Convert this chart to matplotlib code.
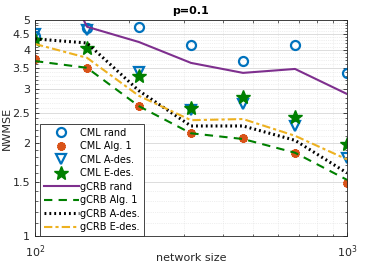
import numpy as np
import matplotlib
matplotlib.use('Agg')
import matplotlib.pyplot as plt
from matplotlib.ticker import FixedLocator, NullFormatter

network_size = [100, 146.8, 215.4, 316.2, 464.2, 681.3, 1000]

cml_rand = [4.45, 4.7, 4.75, 4.15, 3.68, 4.15, 3.37]
cml_alg1 = [3.74, 3.5, 2.63, 2.15, 2.08, 1.86, 1.48]
cml_ades = [4.5, 4.65, 3.4, 2.56, 2.67, 2.27, 1.79]
cml_edes = [4.31, 4.06, 3.3, 2.6, 2.82, 2.43, 1.99]

gcrb_rand = [10.5, 4.75, 4.24, 3.63, 3.37, 3.47, 2.88]
gcrb_alg1 = [3.68, 3.5, 2.63, 2.15, 2.06, 1.86, 1.52]
gcrb_ades = [4.34, 4.21, 2.95, 2.27, 2.27, 2.04, 1.6]
gcrb_edes = [4.18, 3.77, 2.84, 2.37, 2.39, 2.11, 1.77]

y_ticks = [1, 1.5, 2, 2.5, 3, 3.5, 4, 4.5, 5]

blue = '#0072BD'
orange = '#D95319'
green = '#008000'
purple = '#7E2F8E'
yellow = '#EDB120'

plt.rcParams['font.family'] = 'DejaVu Sans'
fig = plt.figure(figsize=(3.68, 2.65), dpi=100)
ax = fig.add_axes([0.095, 0.109, 0.848, 0.816])

ax.plot(network_size, cml_rand, 'o', color=blue, mfc='none', mew=1.6, ms=6.5, label='CML rand')
ax.plot(network_size, cml_alg1, marker=(6, 2, 0), ls='none', color=orange, mew=2.5, ms=6, label='CML Alg. 1')
ax.plot(network_size, cml_ades, 'v', color=blue, mfc='none', mew=1.6, ms=7.5, label='CML A-des.')
ax.plot(network_size, cml_edes, '*', color=green, mew=1, ms=10, label='CML E-des.')

ax.plot(network_size, gcrb_rand, '-', color=purple, lw=1.5, label='gCRB rand')
ax.plot(network_size, gcrb_alg1, '--', color=green, lw=1.5, dashes=(4, 3), label='gCRB Alg. 1')
ax.plot(network_size, gcrb_ades, ':', color='black', lw=2.2, dashes=(0.6, 1), label='gCRB A-des.')
ax.plot(network_size, gcrb_edes, '-.', color=yellow, lw=1.5, dashes=(4, 1.5, 1.5, 1.5), label='gCRB E-des.')

ax.set_xscale('log')
ax.set_yscale('log')
ax.set_xlim(100, 1000)
ax.set_ylim(1, 5)

ax.yaxis.set_major_locator(FixedLocator(y_ticks))
ax.set_yticklabels([f'{t:g}' for t in y_ticks])
ax.yaxis.set_minor_locator(FixedLocator(np.arange(1.1, 5, 0.1)))
ax.yaxis.set_minor_formatter(NullFormatter())
ax.xaxis.set_major_locator(FixedLocator([100, 1000]))
ax.set_xticklabels([r'$10^2$', r'$10^3$'])
ax.xaxis.set_minor_locator(FixedLocator(np.arange(200, 1000, 100)))
ax.xaxis.set_minor_formatter(NullFormatter())

ax.tick_params(which='both', direction='in', top=True, right=True, labelsize=8, colors='#262626')
ax.tick_params(which='major', length=3, width=0.6)
ax.tick_params(which='minor', length=1.8, width=0.5)
ax.tick_params(axis='x', pad=5)

ax.grid(True, which='major', color='#dcdcdc', lw=0.7, ls='-')
ax.grid(True, which='minor', color='#e0e0e0', lw=0.5, ls=':')
ax.set_axisbelow(True)
for s in ax.spines.values():
    s.set_color('#262626')
    s.set_linewidth(0.6)

ax.set_xlabel('network size', fontsize=8, color='#262626', labelpad=-5)
ax.set_ylabel('NWMSE', fontsize=8, color='#262626', labelpad=0)
ax.set_title('p=0.1', fontsize=8, fontweight='bold', pad=4)

leg = ax.legend(loc='lower left', fontsize=7, handlelength=3.6, labelspacing=0.36,
                borderpad=0.4, handletextpad=0.2, borderaxespad=0.0,
                bbox_to_anchor=(0.015, 0.0), fancybox=False,
                edgecolor='#262626', framealpha=1)
leg.get_frame().set_linewidth(0.6)

fig.savefig('out.png', dpi=100)
